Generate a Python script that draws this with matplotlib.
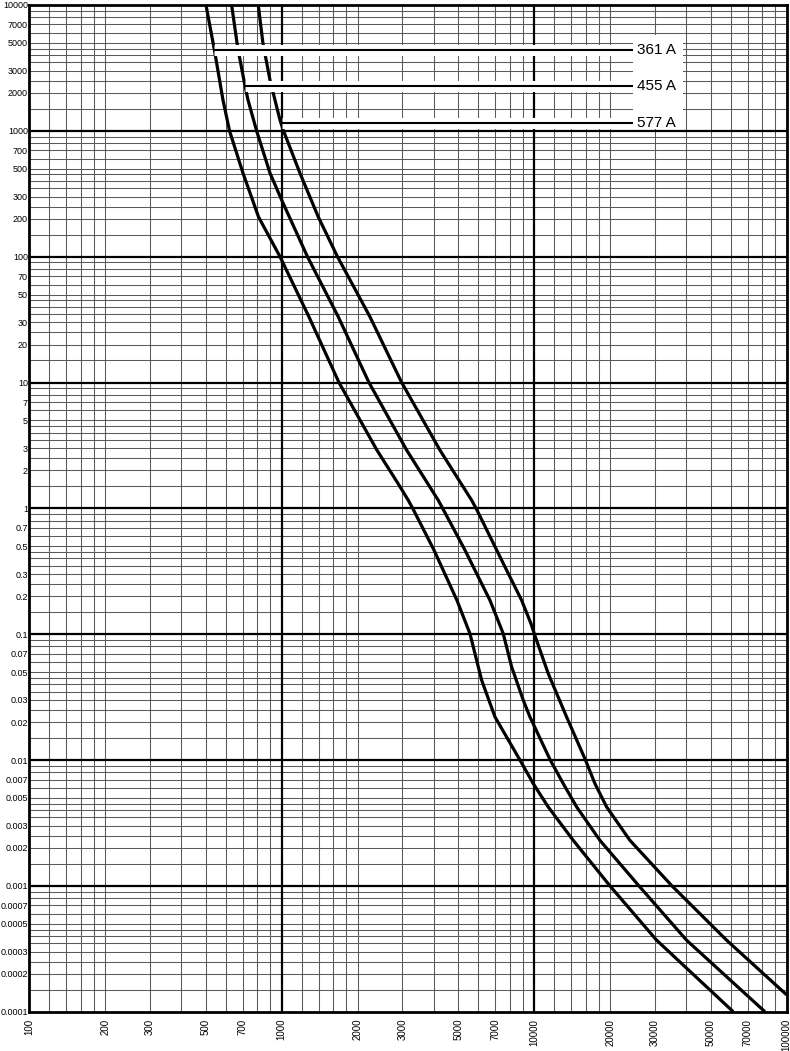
import numpy as np
import matplotlib
matplotlib.use("Agg")
import matplotlib.pyplot as plt
from matplotlib.patches import Rectangle
import matplotlib.patheffects as pe

plt.rcParams['font.family'] = ['Liberation Sans', 'DejaVu Sans']

# time-current curves (current A, time s)
c361_amps = [501, 541, 585, 621, 702, 766, 809, 984, 1281, 1685, 2382, 2885, 3170, 3318,
             4008, 4941, 5564, 6190, 6991, 8778, 9909, 11360, 14271, 19944, 30530, 61400]
c361_secs = [10000, 4388, 1757, 1000, 462, 282, 207, 100, 33.3, 10, 2.9, 1.58, 1.16, 0.98,
             0.466, 0.186, 0.101, 0.0431, 0.022, 0.01, 0.0065, 0.00424, 0.0023, 0.001,
             0.00037, 0.0001]

c455_amps = [633, 665, 680, 715, 735, 795, 898, 999, 1264, 1674, 2215, 3124, 4167, 4361,
             5316, 6677, 7538, 8137, 9047, 9616, 11573, 13025, 14723, 18203, 25980, 40130, 81990]
c455_secs = [10000, 4989, 3862, 2281, 1757, 1000, 462, 282, 100, 33.3, 10, 2.9, 1.16, 0.98,
             0.466, 0.186, 0.101, 0.055, 0.0299, 0.022, 0.01, 0.0065, 0.00424, 0.0023, 0.001,
             0.00037, 0.0001]

c577_amps = [807, 842, 898, 940, 984, 1016, 1180, 1395, 1662, 2235, 2985, 4232, 5650, 5915,
             7656, 8914, 9703, 10000, 11360, 13435, 15955, 17392, 19350, 23933, 35110, 57810, 100000]
c577_secs = [10000, 4989, 2535, 1757, 1218, 1000, 462, 207, 100, 33.3, 10, 2.9, 1.16, 0.98,
             0.343, 0.186, 0.1216, 0.101, 0.0487, 0.022, 0.01, 0.0065, 0.00424, 0.0023, 0.001,
             0.00037, 0.000136]

curve_names = ['361 A', '455 A', '577 A']
leader_secs = [4388, 2281, 1159]
leader_start = [541, 715, 1000]
leader_end = 24600

x_labels = [100, 200, 300, 500, 700, 1000, 2000, 3000, 5000, 7000,
            10000, 20000, 30000, 50000, 70000, 100000]
y_labels = [1e-4, 2e-4, 3e-4, 5e-4, 7e-4, 1e-3, 2e-3, 3e-3, 5e-3, 7e-3,
            0.01, 0.02, 0.03, 0.05, 0.07, 0.1, 0.2, 0.3, 0.5, 0.7,
            1, 2, 3, 5, 7, 10, 20, 30, 50, 70, 100, 200, 300, 500, 700,
            1000, 2000, 3000, 5000, 7000, 10000]

x_minor = [1.2, 1.4, 1.6, 1.8, 2, 3, 4, 5, 6, 7, 8, 9]
y_minor = [1.5, 2, 2.5, 3, 3.5, 4, 4.5, 5, 6, 7, 8, 9]


def fmt(v):
    return format(v, 'f').rstrip('0').rstrip('.')


fig = plt.figure(figsize=(7.9, 10.51), dpi=100)
ax = fig.add_axes([29.3 / 790, 1 - 1011.7 / 1051, (786.7 - 29.3) / 790, (1011.7 - 5) / 1051])
ax.set_xscale('log')
ax.set_yscale('log')
ax.set_xlim(100, 100000)
ax.set_ylim(0.0001, 10000)

# grid by hand: thin lines for subdivisions, heavy for decades
for dec in [100, 1000, 10000]:
    for m in x_minor:
        ax.axvline(dec * m, color='#5a5a5a', lw=0.75, zorder=1)
    if dec > 100:
        ax.axvline(dec, color='black', lw=1.6, zorder=2)
for e in range(-4, 4):
    dec = 10.0 ** e
    for m in y_minor:
        ax.axhline(dec * m, color='#5a5a5a', lw=0.75, zorder=1)
    if e > -4:
        ax.axhline(dec, color='black', lw=1.6, zorder=2)

for xs, ys in [(c361_amps, c361_secs), (c455_amps, c455_secs), (c577_amps, c577_secs)]:
    ax.plot(xs, ys, color='black', lw=2.3, solid_joinstyle='round',
            solid_capstyle='butt', zorder=3)

# white patch behind the labels
ax.add_patch(Rectangle((leader_end, 1030), 38800 - leader_end, 5775 - 1030,
                       facecolor='white', edgecolor='none', zorder=4))

halo = [pe.Stroke(linewidth=8, foreground='white'), pe.Normal()]
for name, s, x0 in zip(curve_names, leader_secs, leader_start):
    ax.plot([x0, leader_end], [s, s], color='black', lw=1.5, zorder=5,
            solid_capstyle='butt', path_effects=halo)
    ax.text(25500, s, name, fontsize=11, ha='left', va='center', zorder=6)

ax.set_xticks(x_labels)
ax.set_xticklabels([fmt(v) for v in x_labels], rotation=90, fontsize=7)
ax.set_yticks(y_labels)
ax.set_yticklabels([fmt(v) for v in y_labels], fontsize=6.5)
ax.xaxis.set_minor_locator(plt.NullLocator())
ax.yaxis.set_minor_locator(plt.NullLocator())
ax.tick_params(axis='both', length=0)
ax.tick_params(axis='x', pad=5)
ax.tick_params(axis='y', pad=1)
for sp in ax.spines.values():
    sp.set_linewidth(2)
    sp.set_zorder(7)

fig.savefig('out.png', dpi=100)
